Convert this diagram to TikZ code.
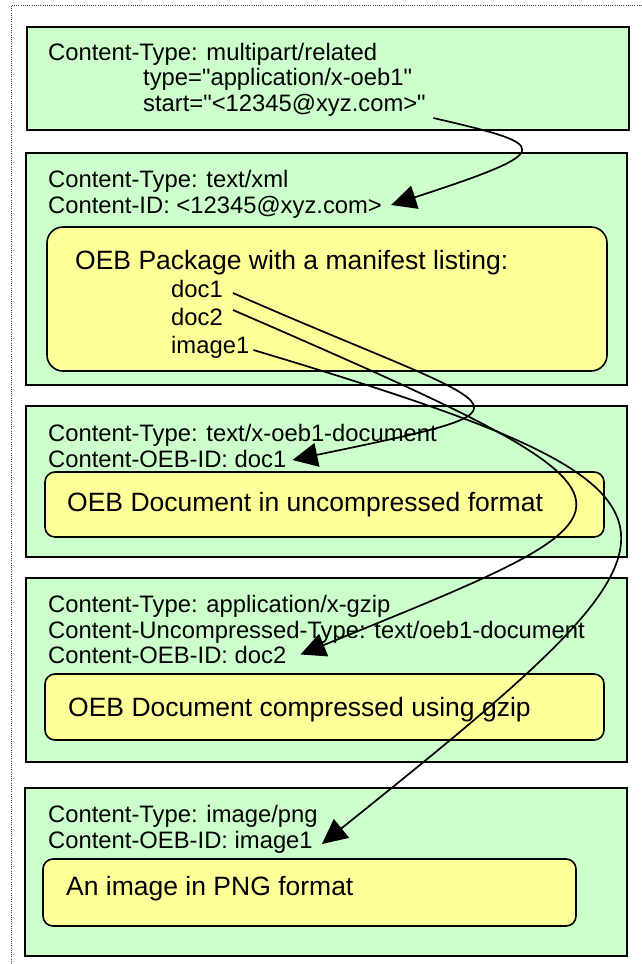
\documentclass[tikz,border=0pt]{standalone}
\usepackage{fontspec}
% keep " as a straight double quote
\setmainfont{Liberation Sans}[Ligatures=TeXOff]
\usetikzlibrary{arrows.meta}
\definecolor{boxgreen}{HTML}{CCFFCC}
\definecolor{boxyellow}{HTML}{FFFF99}

\begin{document}
\begin{tikzpicture}[x=1pt,y=-1pt,
  part/.style={draw=black, fill=boxgreen, line width=1.8pt, rectangle,
    inner sep=0pt, outer sep=0pt, anchor=north west},
  body/.style={draw=black, fill=boxyellow, line width=1.6pt, rectangle,
    rounded corners=#1, inner sep=0pt, outer sep=0pt, anchor=north west},
  body/.default=10pt,
  hdr/.style={anchor=base west, inner sep=0pt, font=\fontsize{23.8}{25.5}\selectfont},
  big/.style={anchor=base west, inner sep=0pt, font=\fontsize{26.5}{28}\selectfont},
  link/.style={line width=1.7pt, -{Triangle[length=25pt,width=24pt]}},
  edge line/.style={line width=1pt, black!75, dash pattern=on 1pt off 1.2pt},
]
\useasboundingbox (0,0) rectangle (642,964);

% dotted page edge
\draw[edge line] (11.5,964) -- (11.5,5) -- (642,5);

% MIME parts
\node[part, minimum width=602pt, minimum height=103pt] (p1) at (27,27) {};
\node[part, minimum width=601pt, minimum height=232pt] (p2) at (26,153) {};
\node[part, minimum width=601pt, minimum height=151pt] (p3) at (26,406) {};
\node[part, minimum width=601pt, minimum height=184pt] (p4) at (26,578) {};
\node[part, minimum width=602pt, minimum height=168pt] (p5) at (25,788) {};

% part bodies
\node[body=16pt, minimum width=560pt, minimum height=144pt] (y2) at (47,227) {};
\node[body, minimum width=559pt, minimum height=65pt] (y3) at (45,472) {};
\node[body, minimum width=559pt, minimum height=66pt] (y4) at (45,674) {};
\node[body, minimum width=533pt, minimum height=67pt] (y5) at (43,859) {};

% headers of the multipart container
\node[hdr] (t1a) at (48,60) {Content-Type: multipart/related};
\node[hdr] (t1b) at (143,85.5) {type="application/x-oeb1"};
\node[hdr] (t1c) at (143,111) {start="<12345@xyz.com>"};

% package part
\node[hdr] (t2a) at (48,187.5) {Content-Type: text/xml};
\node[hdr] (t2b) at (48,213) {Content-ID: <12345@xyz.com>};
\node[big] (m0) at (75,269.5) {OEB Package with a manifest listing:};
\node[hdr] (m1) at (171,297.5) {doc1};
\node[hdr] (m2) at (171,325.5) {doc2};
\node[hdr] (m3) at (171,353.5) {image1};

% uncompressed document
\node[hdr] (t3a) at (48,441.5) {Content-Type: text/x-oeb1-document};
\node[hdr] (t3b) at (48,467) {Content-OEB-ID: doc1};
\node[big] (d3) at (67,511) {OEB Document in uncompressed format};

% gzip document
\node[hdr] (t4a) at (48,612.5) {Content-Type: application/x-gzip};
\node[hdr] (t4b) at (48,638) {Content-Uncompressed-Type: text/oeb1-document};
\node[hdr] (t4c) at (48,663.5) {Content-OEB-ID: doc2};
\node[big] (d4) at (68,716) {OEB Document compressed using gzip};

% image
\node[hdr] (t5a) at (48,822.5) {Content-Type: image/png};
\node[hdr] (t5b) at (48,848) {Content-OEB-ID: image1};
\node[big] (d5) at (66,895) {An image in PNG format};

% references between parts
\draw[link] ([shift={(7.5,7)}]t1c.base east)
  .. controls (550,145) and (560,150) .. ([shift={(9,-8)}]t2b.base east);
\draw[link] ([shift={(10,-4.5)}]m1.base east)
  .. controls (513,416) and (560,404) .. ([shift={(6,-7)}]t3b.base east);
\draw[link] ([shift={(10,-15.5)}]m2.base east)
  .. controls (685,506) and (665,506) .. ([shift={(14,-9)}]t4c.base east);
\draw[link] ([shift={(4,-3.5)}]m3.base east)
  .. controls (740,496) and (717,527) .. ([shift={(9,-4)}]t5b.base east);
\end{tikzpicture}
\end{document}
